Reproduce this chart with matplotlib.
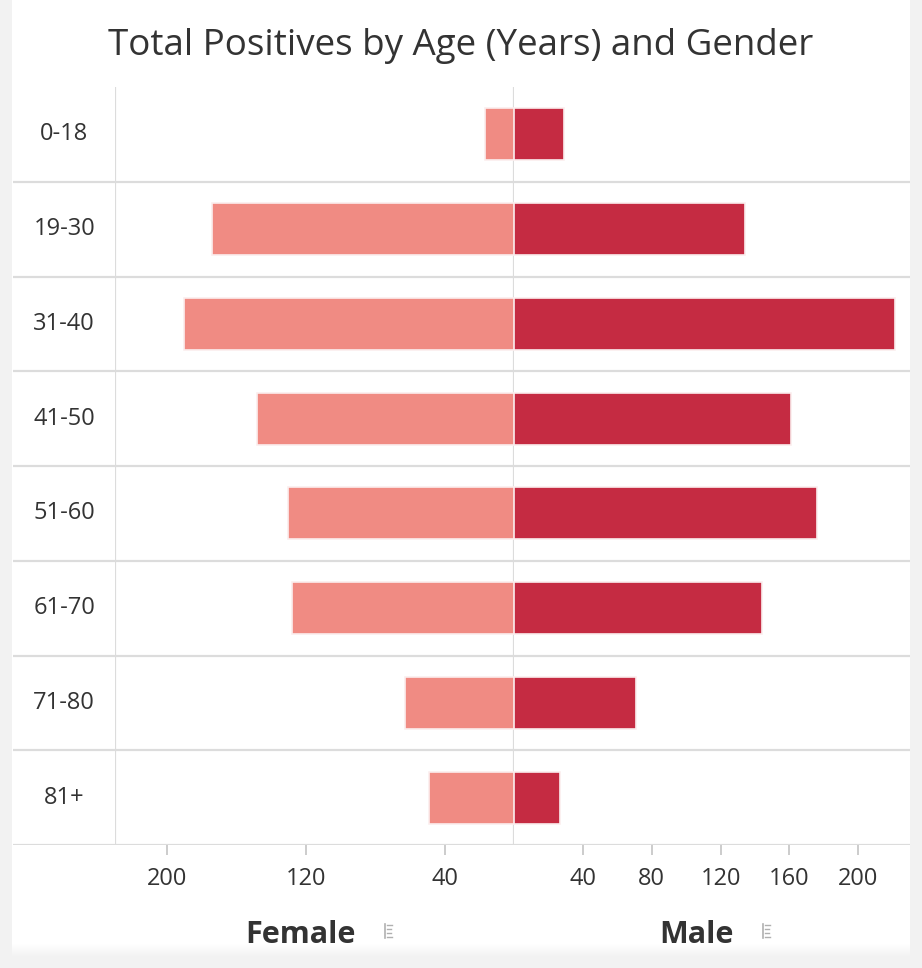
import matplotlib
matplotlib.use("Agg")
import matplotlib.pyplot as plt
from matplotlib.patches import Rectangle
from matplotlib.lines import Line2D
from matplotlib.transforms import ScaledTranslation

categories = ["0-18", "19-30", "31-40", "41-50", "51-60", "61-70", "71-80", "81+"]
female = [17, 174, 190, 148, 130, 128, 63, 49]
male = [29, 134, 221, 161, 176, 144, 71, 27]
female_ticks = [200, 120, 40]
male_ticks = [40, 80, 120, 160, 200]
title = "Total Positives by Age (Years) and Gender"

W, H = 922, 968
plt.rcParams['font.family'] = ['Open Sans', 'DejaVu Sans']
fig = plt.figure(figsize=(W / 100, H / 100), dpi=100)
fig.patch.set_facecolor('#f2f2f2')

def fx(px):
    return px / W

def fy(py):
    return 1 - py / H

# white card with soft bottom shadow
fig.add_artist(Rectangle((fx(12), fy(956)), fx(910) - fx(12), fy(0) - fy(956),
                         transform=fig.transFigure, facecolor='white', edgecolor='none', zorder=0))
for i in range(14):
    g = 1.0 - 0.05 * (i / 13.0)
    fig.add_artist(Rectangle((fx(12), fy(943 + i + 1)), fx(910) - fx(12), 1 / H,
                             transform=fig.transFigure, facecolor=(g, g, g),
                             edgecolor='none', zorder=0.5))

top, bottom = 87, 845
mid = 514
left, right = 115, 910
grid_c = '#dcdcdc'
text_c = '#333333'
fem_c = '#F08B83'
male_c = '#C52B42'
n = len(categories)

# background axes for category grid lines (span label area too)
axbg = fig.add_axes([fx(13), fy(bottom), fx(right) - fx(13), fy(top) - fy(bottom)])
axbg.set_xlim(0, 1)
axbg.set_ylim(n - 0.5, -0.5)
axbg.axis('off')
for k in range(n):
    axbg.axhline(k + 0.5, color=grid_c, lw=1.6, zorder=1)

axL = fig.add_axes([fx(left), fy(bottom), fx(mid) - fx(left), fy(top) - fy(bottom)])
axR = fig.add_axes([fx(mid), fy(bottom), fx(right) - fx(mid), fy(top) - fy(bottom)])
for ax in (axL, axR):
    ax.patch.set_alpha(0)
    ax.set_ylim(n - 0.5, -0.5)
    for s in ax.spines.values():
        s.set_visible(False)
    ax.set_xlim(0, 230)

axL.invert_xaxis()
ypos = list(range(n))
axL.barh(ypos, female, height=0.55, color=fem_c, edgecolor='#fbeeee', linewidth=1.2, zorder=3)
axR.barh(ypos, male, height=0.55, color=male_c, edgecolor='#fbeeee', linewidth=1.2, zorder=3)

# vertical lines
axL.axvline(0, color=grid_c, lw=1.6, zorder=2)
axL.axvline(230, color=grid_c, lw=1.6, zorder=2)

axL.set_yticks(ypos)
axL.set_yticklabels(categories, ha='center')
axL.tick_params(axis='y', length=0, pad=36.5, labelsize=17, labelcolor=text_c)
off = ScaledTranslation(0, 3 / 100, fig.dpi_scale_trans)
for lab in axL.get_yticklabels():
    lab.set_transform(lab.get_transform() + off)
axR.set_yticks([])

axL.set_xticks(female_ticks)
axR.set_xticks(male_ticks)
for ax in (axL, axR):
    ax.tick_params(axis='x', direction='out', length=7, width=1.4, color='#cccccc',
                   labelsize=17, labelcolor=text_c, pad=9)

fig.text(0.5, fy(46), title, ha='center', va='center', fontsize=26.5, color=text_c)
fig.text(fx(300), fy(935), "Female", ha='center', va='center', fontsize=22,
         fontweight='bold', color=text_c)
fig.text(fx(696), fy(935), "Male", ha='center', va='center', fontsize=22,
         fontweight='bold', color=text_c)

# small menu icons next to axis titles
def icon(x0, y0):
    c = '#b0b0b0'
    fig.add_artist(Line2D([fx(x0), fx(x0)], [fy(y0 - 7), fy(y0 + 7)], color=c, lw=1.2,
                          transform=fig.transFigure))
    for dy, ln in ((-6, 5), (-2, 4), (2, 4), (6, 5)):
        fig.add_artist(Line2D([fx(x0 + 2), fx(x0 + 2 + ln)], [fy(y0 + dy), fy(y0 + dy)],
                              color=c, lw=1.0, transform=fig.transFigure))

icon(385, 931)
icon(763, 931)

fig.savefig("out.png", dpi=100, facecolor=fig.get_facecolor())
